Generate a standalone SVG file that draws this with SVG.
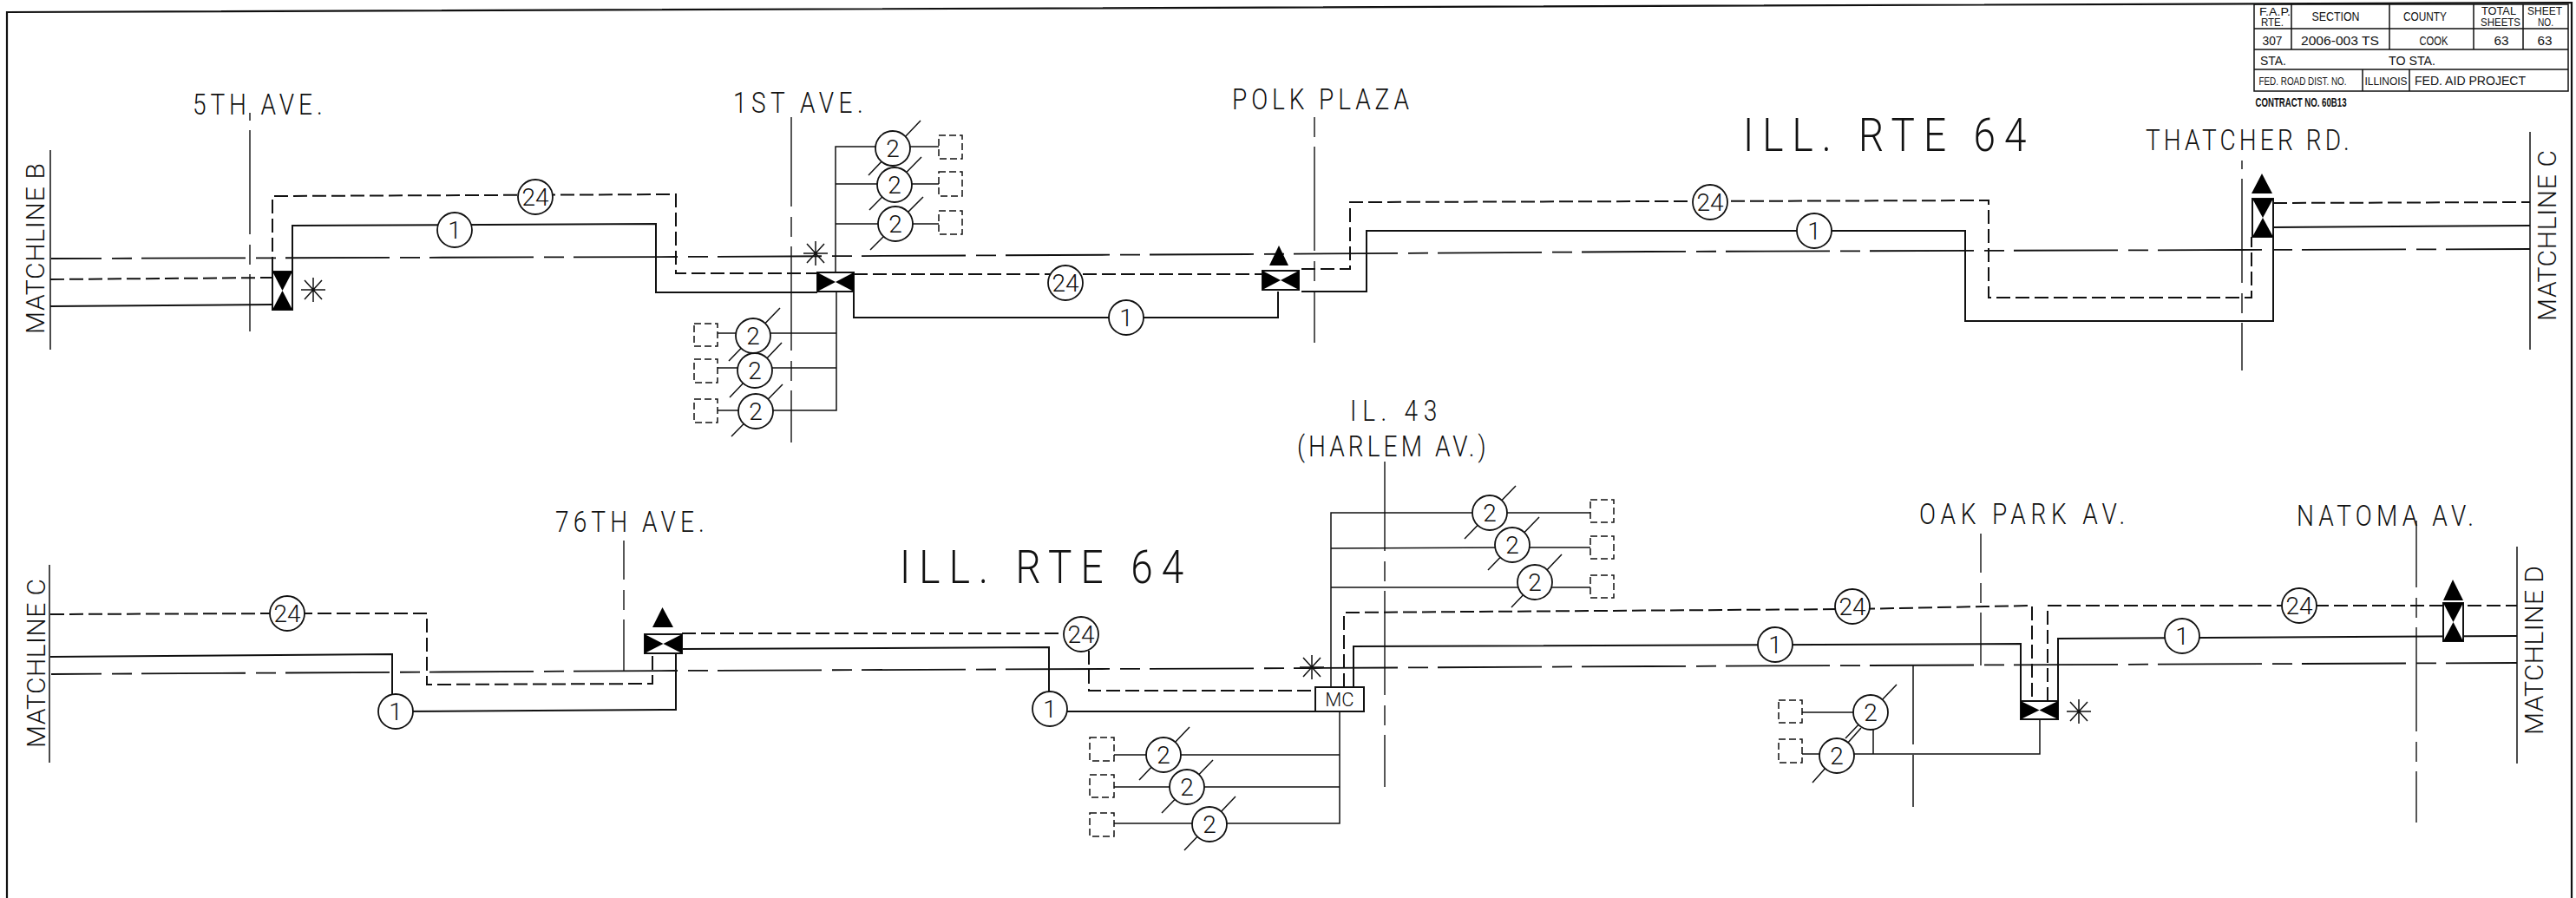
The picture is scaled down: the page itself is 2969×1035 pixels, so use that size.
<svg xmlns="http://www.w3.org/2000/svg" width="2969" height="1035" viewBox="0 0 2969 1035">
<style>
.bg{fill:#fff}
.fr{fill:none;stroke:#111;stroke-width:2.2}
.s,.d,.t,.c,.v,.b{fill:none;stroke:#111}
.s{stroke-width:2}
.d{stroke-width:2;stroke-dasharray:16 6}
.t{stroke-width:1.5}
.c{stroke-width:1.8;stroke-dasharray:120 12 23 11;stroke-dashoffset:62}
.v{stroke-width:1.4;stroke-dasharray:120 12 23 11}
.b{stroke-width:1.5;stroke-dasharray:8 4;fill:#fff}
circle{fill:#fff;stroke:#111;stroke-width:1.8}
.box{fill:#fff;stroke:#111;stroke-width:2}
.k{fill:#000;stroke:none}
text{font-family:"Roboto","Liberation Sans",sans-serif;font-weight:300;fill:#111}
.n{font-size:28px;text-anchor:middle}
.l{font-size:33px}
.m{font-size:30px}
.h{font-size:54px}
.tb{font-family:"Liberation Sans",Arial,sans-serif;font-weight:400;font-size:15px;text-anchor:middle}
.tbs{font-size:13px}
.tbx{font-size:12px}
</style>
<rect class="bg" width="2969" height="1035"/>
<path class="fr" d="M8 1035V14L2964 3V1035"/>

<g id="title-block">
<path class="t" d="M2598 5H2960V105H2598ZM2598 33H2960M2598 57H2960M2598 80H2960M2641 5V57M2754 5V57M2851 5V57M2908 5V57M2723 80V105M2777 80V105"/>
<text class="tb tbs" x="2622" y="18" textLength="36" lengthAdjust="spacingAndGlyphs">F.A.P.</text>
<text class="tb tbs" x="2619" y="30" textLength="26" lengthAdjust="spacingAndGlyphs">RTE.</text>
<text class="tb" x="2692" y="24" textLength="55" lengthAdjust="spacingAndGlyphs">SECTION</text>
<text class="tb" x="2795" y="24" textLength="50" lengthAdjust="spacingAndGlyphs">COUNTY</text>
<text class="tb tbs" x="2880" y="17" textLength="40" lengthAdjust="spacingAndGlyphs">TOTAL</text>
<text class="tb tbs" x="2882" y="30" textLength="46" lengthAdjust="spacingAndGlyphs">SHEETS</text>
<text class="tb tbs" x="2933" y="17" textLength="40" lengthAdjust="spacingAndGlyphs">SHEET</text>
<text class="tb tbs" x="2934" y="30" textLength="18" lengthAdjust="spacingAndGlyphs">NO.</text>
<text class="tb" x="2619" y="52" textLength="23" lengthAdjust="spacingAndGlyphs">307</text>
<text class="tb" x="2697" y="52" textLength="90" lengthAdjust="spacingAndGlyphs">2006-003 TS</text>
<text class="tb" x="2805" y="52" textLength="33" lengthAdjust="spacingAndGlyphs">COOK</text>
<text class="tb" x="2883" y="52" textLength="17" lengthAdjust="spacingAndGlyphs">63</text>
<text class="tb" x="2933" y="52" textLength="17" lengthAdjust="spacingAndGlyphs">63</text>
<text class="tb" x="2620" y="75" textLength="30" lengthAdjust="spacingAndGlyphs">STA.</text>
<text class="tb" x="2780" y="75" textLength="54" lengthAdjust="spacingAndGlyphs">TO STA.</text>
<text class="tb tbx" x="2654" y="98" textLength="101" lengthAdjust="spacingAndGlyphs">FED. ROAD DIST. NO.</text>
<text class="tb tbx" x="2750" y="98" textLength="49" lengthAdjust="spacingAndGlyphs">ILLINOIS</text>
<text class="tb" x="2847" y="98" textLength="128" lengthAdjust="spacingAndGlyphs">FED. AID PROJECT</text>
<text class="tb" x="2652" y="123" textLength="105" lengthAdjust="spacingAndGlyphs" style="font-weight:700">CONTRACT NO. 60B13</text>
</g>

<g id="labels">
<text class="l" transform="translate(222 132) scale(.85 1)" textLength="176">5TH AVE.</text>
<text class="l" transform="translate(845 130) scale(.85 1)" textLength="176">1ST AVE.</text>
<text class="l" transform="translate(1420 126) scale(.85 1)" textLength="240">POLK PLAZA</text>
<text class="l" transform="translate(2473 173) scale(.85 1)" textLength="276">THATCHER RD.</text>
<text class="h" transform="translate(2009 174) scale(.85 1)" textLength="384">ILL. RTE 64</text>
<text class="h" transform="translate(1037 672) scale(.85 1)" textLength="385">ILL. RTE 64</text>
<text class="l" transform="translate(640 613) scale(.85 1)" textLength="202">76TH AVE.</text>
<text class="l" transform="translate(1556 485) scale(.85 1)" textLength="118">IL. 43</text>
<text class="l" transform="translate(1495 526) scale(.85 1)" textLength="256">(HARLEM AV.)</text>
<text class="l" transform="translate(2212 604) scale(.85 1)" textLength="279">OAK PARK AV.</text>
<text class="l" transform="translate(2647 606) scale(.85 1)" textLength="240">NATOMA AV.</text>
<text class="m" transform="translate(51 385) rotate(-90)" textLength="197" lengthAdjust="spacing">MATCHLINE B</text>
<text class="m" transform="translate(2946 370) rotate(-90)" textLength="197" lengthAdjust="spacing">MATCHLINE C</text>
<text class="m" transform="translate(52 862) rotate(-90)" textLength="195" lengthAdjust="spacing">MATCHLINE C</text>
<text class="m" transform="translate(2931 847) rotate(-90)" textLength="195" lengthAdjust="spacing">MATCHLINE D</text>
</g>

<g id="connectors">
<!-- matchlines -->
<path class="t" d="M58 173V403M2916 152V403M57 651V879M2901 630V880"/>
<!-- road centre lines -->
<path class="c" d="M59 298L780 296L1438 293L1900 290L2582 288L2916 287"/>
<path class="c" d="M59 777L778 773L1516 770L1900 768L2901 764"/>
<!-- cross streets -->
<path class="v" style="stroke-dashoffset:146" d="M288 130V382"/>
<path class="v" style="stroke-dashoffset:17" d="M912 135V510"/>
<path class="v" style="stroke-dashoffset:132" d="M1515 135V395"/>
<path class="v" style="stroke-dashoffset:145" d="M2584 185V427"/>
<path class="v" style="stroke-dashoffset:75" d="M719 623V773"/>
<path class="v" style="stroke-dashoffset:17" d="M1596 532V907"/>
<path class="v" style="stroke-dashoffset:75" d="M2283 615V767"/>
<path class="v" style="stroke-dashoffset:43" d="M2785 600V948"/>
<path class="t" d="M2205 767V858M2205 870V930"/>
<!-- upper cable 24 -->
<path class="d" d="M58 322L314 320V226L779 224V315H942M984 316H1455M1500 310H1556V233L2292 231V343H2595V273M2620 234L2916 233"/>
<!-- upper cable 1 -->
<path class="s" d="M58 353L314 351M337 313V260L756 258V337H942M984 336V366H1473V336M1500 336H1575V266H2265V370H2620V273M2620 262L2916 260"/>
<!-- lower cable 24 -->
<path class="d" d="M58 708L331 707H492V789L752 788V753M786 730H1246M1255 750V796H1516M1549 792V706L2135 702L2342 698V808M2360 808V698H2901"/>
<!-- lower cable 1 -->
<path class="s" d="M58 757L452 754V820M456 820L779 818V753M786 748L1209 746V817M1210 820H1516M1560 792V745L2329 742V808M2372 808V736L2901 733"/>
<!-- branches -->
<path class="t" d="M963 314V169H1082M963 212H1082M963 258H1082M964 336V473H827M964 384H827M964 424H827"/>
<path class="t" d="M1534 792V591H1833M1534 632L1743 631H1833M1534 677H1833M1544 820V949H1284M1544 870H1284M1544 907H1284"/>
<path class="t" d="M2351 829V869H2077M2159 869V821H2077"/>
<!-- ticks -->
<path class="t" d="M1001 202L1061 139M1002 242L1062 181M1003 288L1064 227M840 416L899 355M841 458L901 395M843 503L902 443M1688 621L1747 560M1715 657L1774 596M1742 700L1800 639M1313 899L1371 838M1339 937L1398 876M1365 980L1424 918M2127 851L2186 789M2089 902L2145 839"/>
</g>

<g id="valve-5th"><rect class="box" x="314" y="313" width="23" height="44"/><polygon class="k" points="314,313 337,313 325.500,335"/><polygon class="k" points="314,357 337,357 325.500,335"/></g>
<g id="valve-1st"><rect class="box" x="942" y="314" width="42" height="22"/><polygon class="k" points="942,314 942,336 963,325"/><polygon class="k" points="984,314 984,336 963,325"/></g>
<g id="valve-polk"><rect class="box" x="1455" y="312" width="42" height="22"/><polygon class="k" points="1455,312 1455,334 1476,323"/><polygon class="k" points="1497,312 1497,334 1476,323"/><polygon class="k" points="1474,283 1463,306 1485,306"/></g>
<g id="valve-thatcher"><rect class="box" x="2596" y="229" width="24" height="44"/><polygon class="k" points="2596,229 2620,229 2608,251"/><polygon class="k" points="2596,273 2620,273 2608,251"/><polygon class="k" points="2607,200 2595,223 2619,223"/></g>
<g id="valve-76th"><rect class="box" x="743" y="731" width="43" height="22"/><polygon class="k" points="743,731 743,753 764.500,742"/><polygon class="k" points="786,731 786,753 764.500,742"/><polygon class="k" points="763.500,700 752,723 776,723"/></g>
<g id="valve-oak"><rect class="box" x="2329" y="808" width="43" height="21"/><polygon class="k" points="2329,808 2329,829 2350.500,818.500"/><polygon class="k" points="2372,808 2372,829 2350.500,818.500"/></g>
<g id="valve-natoma"><rect class="box" x="2816" y="695" width="23" height="44"/><polygon class="k" points="2816,695 2839,695 2827.500,717"/><polygon class="k" points="2816,739 2839,739 2827.500,717"/><polygon class="k" points="2827,668 2816,692 2839,692"/></g>
<g id="controller-mc"><rect class="box" x="1516" y="792" width="56" height="28"/><text x="1544" y="814" style="font-size:22px;text-anchor:middle">MC</text></g>

<g id="stars">
<path id="star-5th" class="t" d="M361 320V348M347 334H375M351 323L371 345M371 323L351 345"/>
<path id="star-1st" class="t" d="M940 278V306M926 292H954M930 281L950 303M950 281L930 303"/>
<path id="star-mc" class="t" d="M1512 755V783M1498 769H1526M1502 758L1522 780M1522 758L1502 780"/>
<path id="star-oak" class="t" d="M2396 806V834M2382 820H2410M2386 809L2406 831M2406 809L2386 831"/>
</g>

<g id="n24a"><circle cx="617" cy="227" r="20"/><text class="n" x="617" y="237">24</text></g>
<g id="n1a"><circle cx="524" cy="265" r="20"/><text class="n" x="524" y="275">1</text></g>
<g id="n24b"><circle cx="1228" cy="326" r="20"/><text class="n" x="1228" y="336">24</text></g>
<g id="n1b"><circle cx="1298" cy="366" r="20"/><text class="n" x="1298" y="376">1</text></g>
<g id="n24c"><circle cx="1971" cy="233" r="20"/><text class="n" x="1971" y="243">24</text></g>
<g id="n1c"><circle cx="2091" cy="266" r="20"/><text class="n" x="2091" y="276">1</text></g>
<g id="n24d"><circle cx="331" cy="707" r="20"/><text class="n" x="331" y="717">24</text></g>
<g id="n1d"><circle cx="456" cy="820" r="20"/><text class="n" x="456" y="830">1</text></g>
<g id="n24e"><circle cx="1246" cy="731" r="20"/><text class="n" x="1246" y="741">24</text></g>
<g id="n1e"><circle cx="1210" cy="817" r="20"/><text class="n" x="1210" y="827">1</text></g>
<g id="n24f"><circle cx="2135" cy="699" r="20"/><text class="n" x="2135" y="709">24</text></g>
<g id="n1f"><circle cx="2046" cy="743" r="20"/><text class="n" x="2046" y="753">1</text></g>
<g id="n24g"><circle cx="2650" cy="698" r="20"/><text class="n" x="2650" y="708">24</text></g>
<g id="n1g"><circle cx="2515" cy="733" r="20"/><text class="n" x="2515" y="743">1</text></g>

<g id="p1"><circle cx="1029" cy="171" r="20"/><text class="n" x="1029" y="181">2</text><rect class="b" x="1082" y="156" width="27" height="27"/></g>
<g id="p2"><circle cx="1031" cy="213" r="20"/><text class="n" x="1031" y="223">2</text><rect class="b" x="1082" y="198" width="27" height="28"/></g>
<g id="p3"><circle cx="1032" cy="258" r="20"/><text class="n" x="1032" y="268">2</text><rect class="b" x="1082" y="243" width="27" height="27"/></g>
<g id="p4"><circle cx="868" cy="387" r="20"/><text class="n" x="868" y="397">2</text><rect class="b" x="800" y="373" width="27" height="26"/></g>
<g id="p5"><circle cx="870" cy="427" r="20"/><text class="n" x="870" y="437">2</text><rect class="b" x="800" y="414" width="27" height="27"/></g>
<g id="p6"><circle cx="871" cy="474" r="20"/><text class="n" x="871" y="484">2</text><rect class="b" x="800" y="460" width="27" height="27"/></g>
<g id="p7"><circle cx="1717" cy="591" r="20"/><text class="n" x="1717" y="601">2</text><rect class="b" x="1833" y="576" width="27" height="26"/></g>
<g id="p8"><circle cx="1743" cy="628" r="20"/><text class="n" x="1743" y="638">2</text><rect class="b" x="1833" y="618" width="27" height="26"/></g>
<g id="p9"><circle cx="1769" cy="671" r="20"/><text class="n" x="1769" y="681">2</text><rect class="b" x="1833" y="663" width="27" height="26"/></g>
<g id="p10"><circle cx="1341" cy="870" r="20"/><text class="n" x="1341" y="880">2</text><rect class="b" x="1256" y="850" width="28" height="27"/></g>
<g id="p11"><circle cx="1368" cy="907" r="20"/><text class="n" x="1368" y="917">2</text><rect class="b" x="1256" y="893" width="28" height="26"/></g>
<g id="p12"><circle cx="1394" cy="950" r="20"/><text class="n" x="1394" y="960">2</text><rect class="b" x="1256" y="937" width="28" height="27"/></g>
<g id="p13"><circle cx="2156" cy="821" r="20"/><text class="n" x="2156" y="831">2</text><rect class="b" x="2050" y="807" width="27" height="26"/></g>
<g id="p14"><circle cx="2117" cy="871" r="20"/><text class="n" x="2117" y="881">2</text><rect class="b" x="2050" y="852" width="27" height="27"/></g>
</svg>
